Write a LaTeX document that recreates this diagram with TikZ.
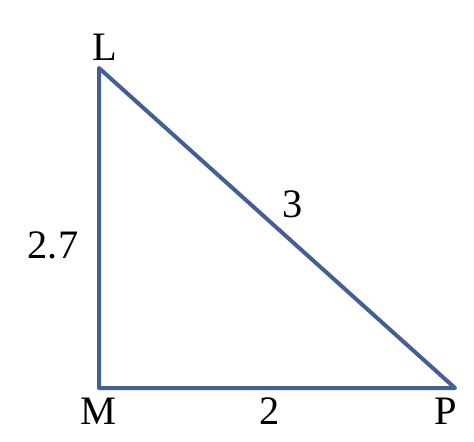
\documentclass[tikz,border=0pt]{standalone}
\usepackage{fontspec}
\setmainfont{Liberation Serif}
\definecolor{canh}{RGB}{66,96,146}
\begin{document}
\begin{tikzpicture}[x=0.02cm,y=-0.02cm,line join=round,line cap=round,
  nhan/.style={font=\fontsize{23}{26}\selectfont,inner sep=0pt}]
\useasboundingbox (0,0) rectangle (474,441);
\foreach \diem/\x/\y in {L/99/68,M/99/388,P/455/388}{
\coordinate (\diem) at (\x,\y);
}
\draw[canh,line width=0.08cm] (L)--(M)--(P)--cycle;
\node[nhan] (nL) at (105,47) {L};
\node[nhan] (nM) at (98,411) {M};
\node[nhan] (nP) at (446,411) {P};
\node[nhan] (nMP) at (270,411) {2};
\node[nhan] (nLM) at (53,245) {2.7};
\node[nhan] (nLP) at (293,204) {3};
\end{tikzpicture}
\end{document}
